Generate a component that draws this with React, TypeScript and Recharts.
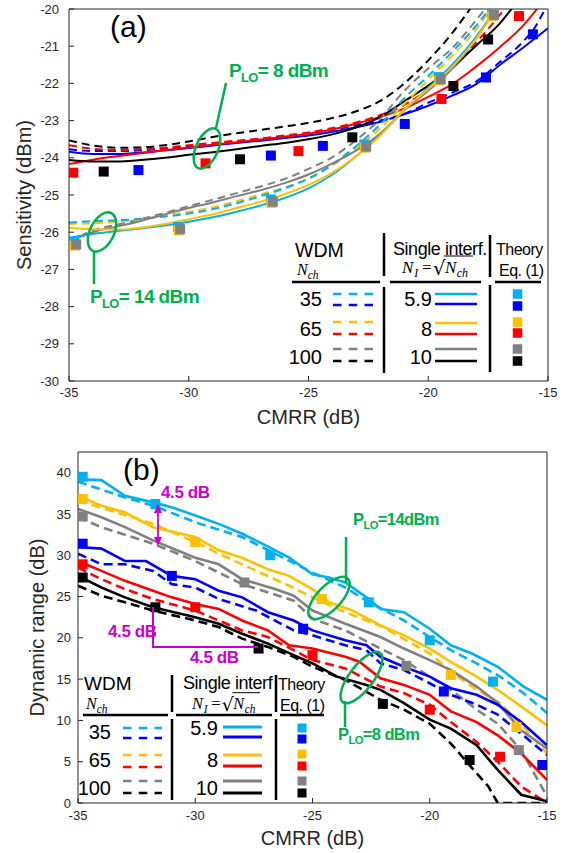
import React from 'react';
import { ComposedChart, Line, Scatter, XAxis, YAxis, Label } from 'recharts';

type P = [number, number];
const toXY = (a: P[]) => a.map(([x, y]) => ({ x, y }));

// ---------- ticks ----------
const CMRR_TICKS = [-35, -30, -25, -20, -15];
const SENS_TICKS = [-30, -29, -28, -27, -26, -25, -24, -23, -22, -21, -20];
const DR_TICKS = [0, 5, 10, 15, 20, 25, 30, 35, 40];

// ---------- panel (a): sensitivity (dBm) vs CMRR ----------
// P_LO = 8 dBm
const A_BLUE_WDM35: P[] = [[-35,-23.77],[-34,-23.82],[-33,-23.82],[-32,-23.8],[-31,-23.75],[-30,-23.7],[-29,-23.64],[-28,-23.56],[-27,-23.49],[-26,-23.42],[-25,-23.34],[-24,-23.25],[-23,-23.12],[-22,-23.0],[-21,-22.82],[-20,-22.52],[-19,-22.25],[-18,-21.95],[-17,-21.42],[-16,-20.85],[-15.5,-20.45],[-15.2,-20.1],[-15,-19.9]];
const A_BLUE_SI59: P[] = [[-35,-23.84],[-34,-23.9],[-33,-23.9],[-32,-23.86],[-31,-23.8],[-30,-23.74],[-29,-23.67],[-28,-23.6],[-27,-23.54],[-26,-23.47],[-25,-23.4],[-24,-23.3],[-23,-23.18],[-22,-23.03],[-21,-22.83],[-20,-22.6],[-19,-22.33],[-18,-22.02],[-17,-21.5],[-16,-21.02],[-15,-20.52]];
const A_RED_WDM65: P[] = [[-35,-23.66],[-34,-23.76],[-33,-23.79],[-32,-23.77],[-31,-23.73],[-30,-23.66],[-29,-23.6],[-28,-23.54],[-27,-23.48],[-26,-23.4],[-25,-23.32],[-24,-23.2],[-23,-23.05],[-22,-22.85],[-21,-22.58],[-20,-22.15],[-19,-21.6],[-18,-20.9],[-17,-20.15],[-16.7,-19.9]];
const A_RED_SI8: P[] = [[-35,-24.17],[-34,-24.05],[-33,-23.96],[-32,-23.88],[-31,-23.8],[-30,-23.72],[-29,-23.65],[-28,-23.58],[-27,-23.51],[-26,-23.43],[-25,-23.35],[-24,-23.24],[-23,-23.08],[-22,-22.9],[-21,-22.68],[-20,-22.36],[-19,-22.02],[-18,-21.55],[-17,-21.02],[-16,-20.42],[-15.4,-19.95]];
const A_BLACK_WDM100: P[] = [[-35,-23.53],[-34,-23.67],[-33,-23.73],[-32,-23.72],[-31,-23.66],[-30,-23.56],[-29,-23.44],[-28,-23.34],[-27,-23.25],[-26,-23.16],[-25,-23.06],[-24,-22.93],[-23,-22.75],[-22,-22.47],[-21,-22.0],[-20,-21.38],[-19,-20.65],[-18.5,-20.22],[-18.2,-19.95]];
const A_BLACK_SI10: P[] = [[-35,-24.06],[-34,-24.1],[-33,-24.1],[-32,-24.06],[-31,-24.0],[-30,-23.92],[-29,-23.85],[-28,-23.77],[-27,-23.68],[-26,-23.6],[-25,-23.5],[-24,-23.37],[-23,-23.18],[-22,-22.9],[-21,-22.48],[-20,-22.06],[-19,-21.58],[-18,-20.98],[-17,-20.38],[-16.5,-19.98]];
// P_LO = 14 dBm
const A_CYAN_WDM35: P[] = [[-35,-25.74],[-34,-25.7],[-33,-25.68],[-32,-25.64],[-31,-25.58],[-30,-25.5],[-29,-25.38],[-28,-25.22],[-27,-25.03],[-26,-24.82],[-25,-24.56],[-24,-24.18],[-23,-23.68],[-22,-23.1],[-21,-22.4],[-20,-21.8],[-19,-21.15],[-18,-20.45],[-17.4,-19.95]];
const A_CYAN_SI59: P[] = [[-35,-26.15],[-34,-26.05],[-33,-25.97],[-32,-25.9],[-31,-25.82],[-30,-25.72],[-29,-25.6],[-28,-25.45],[-27,-25.28],[-26,-25.08],[-25,-24.82],[-24,-24.45],[-23,-23.95],[-22,-23.38],[-21,-22.72],[-20,-22.12],[-19,-21.5],[-18,-20.75],[-17.2,-20.0],[-17,-19.8]];
const A_ORANGE_WDM65: P[] = [[-35,-25.78],[-34,-25.76],[-33,-25.72],[-32,-25.65],[-31,-25.55],[-30,-25.45],[-29,-25.33],[-28,-25.17],[-27,-24.98],[-26,-24.8],[-25,-24.55],[-24,-24.2],[-23,-23.75],[-22,-23.2],[-21,-22.55],[-20,-21.9],[-19,-21.25],[-18,-20.55],[-17.4,-20.0],[-17.3,-19.9]];
const A_ORANGE_SI8: P[] = [[-35,-25.88],[-34,-25.92],[-33,-25.93],[-32,-25.88],[-31,-25.78],[-30,-25.65],[-29,-25.52],[-28,-25.35],[-27,-25.18],[-26,-24.98],[-25,-24.73],[-24,-24.4],[-23,-23.95],[-22,-23.4],[-21,-22.7],[-20,-22.15],[-19,-21.55],[-18,-20.8],[-17.2,-20.0],[-17,-19.8]];
const A_GRAY_WDM100: P[] = [[-35,-26.3],[-34.5,-26.1],[-34,-25.95],[-33,-25.8],[-32,-25.65],[-31,-25.48],[-30,-25.3],[-29,-25.13],[-28,-24.95],[-27,-24.77],[-26,-24.57],[-25,-24.3],[-24,-23.98],[-23,-23.52],[-22,-22.95],[-21,-22.2],[-20,-21.6],[-19,-21.05],[-18,-20.3],[-17.6,-19.98]];
const A_GRAY_SI10: P[] = [[-35,-26.3],[-34.5,-26.12],[-34,-26.0],[-33,-25.85],[-32,-25.7],[-31,-25.52],[-30,-25.35],[-29,-25.2],[-28,-25.03],[-27,-24.87],[-26,-24.68],[-25,-24.45],[-24,-24.15],[-23,-23.8],[-22,-23.35],[-21,-22.72],[-20,-22.2],[-19,-21.6],[-18,-20.8],[-17.2,-20.0],[-17,-19.8]];
// theory squares (a)
const A_TH_CYAN: P[] = [[-34.78,-26.27],[-30.44,-25.86],[-26.57,-25.12],[-22.67,-23.64],[-19.56,-21.83],[-17.34,-20.1]];
const A_TH_ORANGE: P[] = [[-34.76,-26.36],[-30.42,-25.95],[-26.55,-25.21],[-22.65,-23.73],[-19.54,-21.92],[-17.32,-20.19]];
const A_TH_GRAY: P[] = [[-34.7,-26.33],[-30.36,-25.92],[-26.49,-25.18],[-22.59,-23.7],[-19.48,-21.89],[-17.26,-20.16]];
const A_TH_BLUE: P[] = [[-32.1,-24.33],[-26.57,-23.94],[-24.4,-23.68],[-20.98,-23.09],[-17.59,-21.84],[-15.63,-20.68]];
const A_TH_RED: P[] = [[-34.82,-24.4],[-29.3,-24.15],[-25.42,-23.82],[-19.45,-22.42],[-16.21,-20.19]];
const A_TH_BLACK: P[] = [[-33.55,-24.37],[-27.86,-24.04],[-23.17,-23.45],[-18.95,-22.07],[-17.5,-20.82]];

// ---------- panel (b): dynamic range (dB) vs CMRR ----------
const B_CYAN_WDM35: P[] = [[-35,38.9],[-33,37.0],[-31.8,36.0],[-29.8,33.8],[-28,32.2],[-26.6,30.2],[-25,27.9],[-23.6,26.1],[-22.7,24.5],[-21.1,22.1],[-20,20.1],[-19.1,18.5],[-18,16.9],[-17,15.3],[-16,13.3],[-15,10.9]];
const B_CYAN_SI59: P[] = [[-35,39.2],[-34,39.1],[-33,37.2],[-31.8,36.4],[-31,35.8],[-30,34.8],[-29,33.8],[-28,32.6],[-27,31.2],[-26,29.7],[-25,27.7],[-24.3,27.3],[-23.6,26.7],[-22.7,24.9],[-22.1,23.5],[-21.1,23.1],[-20,21.1],[-19.1,19.1],[-18.2,18.1],[-17.1,16.5],[-16,14.1],[-15,12.5]];
const B_ORANGE_WDM65: P[] = [[-35,36.6],[-33.6,35.4],[-31.8,33.8],[-30,31.6],[-29,30.2],[-28,28.9],[-27,27.6],[-26,26.3],[-25,24.9],[-23.6,23.1],[-22,21.3],[-20,18.1],[-19,15.7],[-18,13.7],[-17,12.1],[-16,9.2],[-15,6.0]];
const B_ORANGE_SI8: P[] = [[-35,37.2],[-34,36.0],[-33,35.2],[-31.8,33.4],[-30,32.2],[-29,30.6],[-28,29.7],[-26.9,28.3],[-26,27.5],[-25,25.9],[-24.3,24.3],[-23.3,23.3],[-22.1,21.5],[-21.1,20.3],[-20,18.7],[-19.1,17.1],[-18,15.3],[-17.1,13.7],[-16.1,11.7],[-15,9.4]];
const B_GRAY_WDM100: P[] = [[-35,34.6],[-34,33.4],[-31.8,31.4],[-30,29.3],[-28,26.5],[-25.8,24.5],[-25,22.3],[-23.6,20.9],[-22.1,18.7],[-21.1,17.3],[-20,15.3],[-19.1,13.7],[-18,11.3],[-17.1,9.6],[-16.1,6.4],[-15,0.8]];
const B_GRAY_SI10: P[] = [[-35,35.6],[-34,34.6],[-33,33.4],[-31.8,31.8],[-30,29.7],[-29,28.9],[-28,27.1],[-26.6,25.9],[-25.8,25.1],[-25,23.3],[-23.6,21.7],[-22.1,20.1],[-21.1,18.7],[-20,17.3],[-19.1,16.1],[-18,14.1],[-17.1,12.1],[-16.1,8.8],[-15,6.6]];
const B_BLUE_WDM35: P[] = [[-35,30.2],[-34,28.9],[-33,28.9],[-31.8,28.1],[-31,26.5],[-30,26.1],[-29,24.7],[-27.4,23.3],[-25.8,20.9],[-25,20.3],[-23.6,19.1],[-22.7,18.5],[-22.1,16.9],[-21.1,16.1],[-20,14.5],[-19.1,13.1],[-18,11.9],[-17.1,10.7],[-16.1,8.4],[-15,5.8]];
const B_BLUE_SI59: P[] = [[-35,31.0],[-34,30.8],[-33,29.3],[-32.1,29.3],[-31,27.5],[-30,27.1],[-29,25.7],[-28,24.9],[-26.9,23.1],[-25.8,22.1],[-25,20.9],[-23.6,19.7],[-22.7,19.1],[-22.1,17.7],[-21.1,16.5],[-20,15.3],[-19.1,13.9],[-18,13.1],[-17.1,11.9],[-16.1,9.8],[-15,7.0]];
const B_RED_WDM65: P[] = [[-35,28.5],[-34,27.1],[-33,25.9],[-31.8,24.7],[-30,23.3],[-29,22.1],[-28,20.9],[-26.9,20.1],[-25.8,18.5],[-25,17.3],[-23.6,16.3],[-22.1,14.1],[-21.1,13.3],[-20,11.9],[-19.1,9.8],[-18,7.4],[-17.1,5.0],[-16.1,2.0],[-15,0]];
const B_RED_SI8: P[] = [[-35,29.3],[-34,28.1],[-33,26.9],[-31.8,25.7],[-31,24.9],[-30,24.1],[-29,23.5],[-28,22.1],[-26.9,20.9],[-26,19.1],[-25,18.7],[-23.6,17.7],[-23,17.1],[-22.1,15.1],[-21.1,14.3],[-20,13.1],[-19.1,11.1],[-18,9.8],[-17.1,8.2],[-16.1,6.0],[-15,2.8]];
const B_BLACK_WDM100: P[] = [[-35,26.3],[-34,25.1],[-33,24.3],[-31.8,23.3],[-30,22.1],[-29,21.3],[-28,19.9],[-26.9,18.9],[-25.8,17.7],[-25,16.5],[-23.6,14.9],[-22.1,12.5],[-21.1,11.3],[-20,9.6],[-19.1,7.2],[-18,3.6],[-17.5,2.0],[-17.1,0],[-16,0],[-15,0]];
const B_BLACK_SI10: P[] = [[-35,27.5],[-34,26.1],[-33,24.9],[-31.8,23.7],[-30,22.5],[-29,21.7],[-28,20.5],[-26.9,19.3],[-25.8,17.9],[-25,16.9],[-23.95,15.3],[-22.7,14.3],[-22.1,13.7],[-21.1,12.1],[-20,10.1],[-19.1,9.0],[-18,7.0],[-17.1,4.0],[-16.1,1.0],[-15,0.2]];
// theory squares (b)
const B_TH_CYAN: P[] = [[-34.8,39.5],[-31.7,36.2],[-26.8,30.0],[-22.6,24.3],[-20.0,19.7],[-17.3,14.7]];
const B_TH_BLUE: P[] = [[-34.8,31.4],[-31.0,27.5],[-25.4,21.1],[-19.4,13.5],[-15.2,4.6]];
const B_TH_ORANGE: P[] = [[-34.8,36.8],[-30.0,31.6],[-24.6,24.7],[-19.1,15.5],[-16.3,9.2]];
const B_TH_RED: P[] = [[-34.8,28.9],[-30.0,23.7],[-25.0,17.9],[-20.0,11.3],[-17.0,5.6]];
const B_TH_GRAY: P[] = [[-34.8,34.7],[-27.9,26.7],[-21.0,16.6],[-16.2,6.4]];
const B_TH_BLACK: P[] = [[-34.8,27.3],[-31.7,23.7],[-27.3,18.7],[-22.0,12.0],[-18.3,5.2]];

// ---------- legend labels ----------
const WDM_NCH = ['35', '65', '100'];
const SI_NI = ['5.9', '8', '10'];

// ---------- styles ----------
const COL = { cyan: '#00B0F0', blue: '#0000FF', orange: '#FFC000', red: '#FF0000', gray: '#808080', black: '#000000' };
const ROW_COLORS = [[COL.cyan, COL.blue], [COL.orange, COL.red], [COL.gray, COL.black]];
const GREEN = '#00B050';
const MAGENTA = '#CC00CC';
const AX = '#262626';
const TICK = { fontSize: 13, fill: AX };

const A_LINES = [
  { d: A_BLUE_WDM35, c: COL.blue, dash: true }, { d: A_RED_WDM65, c: COL.red, dash: true }, { d: A_BLACK_WDM100, c: COL.black, dash: true },
  { d: A_BLUE_SI59, c: COL.blue, dash: false }, { d: A_RED_SI8, c: COL.red, dash: false }, { d: A_BLACK_SI10, c: COL.black, dash: false },
  { d: A_GRAY_WDM100, c: COL.gray, dash: true }, { d: A_ORANGE_WDM65, c: COL.orange, dash: true }, { d: A_CYAN_WDM35, c: COL.cyan, dash: true },
  { d: A_GRAY_SI10, c: COL.gray, dash: false }, { d: A_CYAN_SI59, c: COL.cyan, dash: false }, { d: A_ORANGE_SI8, c: COL.orange, dash: false },
];
const A_SQUARES = [
  { d: A_TH_CYAN, c: COL.cyan }, { d: A_TH_ORANGE, c: COL.orange }, { d: A_TH_GRAY, c: COL.gray },
  { d: A_TH_BLUE, c: COL.blue }, { d: A_TH_RED, c: COL.red }, { d: A_TH_BLACK, c: COL.black },
];
const B_LINES = [
  { d: B_CYAN_WDM35, c: COL.cyan, dash: true }, { d: B_ORANGE_WDM65, c: COL.orange, dash: true }, { d: B_GRAY_WDM100, c: COL.gray, dash: true },
  { d: B_BLUE_WDM35, c: COL.blue, dash: true }, { d: B_RED_WDM65, c: COL.red, dash: true }, { d: B_BLACK_WDM100, c: COL.black, dash: true },
  { d: B_CYAN_SI59, c: COL.cyan, dash: false }, { d: B_ORANGE_SI8, c: COL.orange, dash: false }, { d: B_GRAY_SI10, c: COL.gray, dash: false },
  { d: B_BLUE_SI59, c: COL.blue, dash: false }, { d: B_RED_SI8, c: COL.red, dash: false }, { d: B_BLACK_SI10, c: COL.black, dash: false },
];
const B_SQUARES = [
  { d: B_TH_CYAN, c: COL.cyan }, { d: B_TH_ORANGE, c: COL.orange }, { d: B_TH_GRAY, c: COL.gray },
  { d: B_TH_BLUE, c: COL.blue }, { d: B_TH_RED, c: COL.red }, { d: B_TH_BLACK, c: COL.black },
];

const square = (s: number) => (p: any) => (
  <rect x={p.cx - s / 2} y={p.cy - s / 2} width={s} height={s} fill={p.fill} />
);

function renderSeries(lines: any[], squares: any[], width: number, dash: string, curve: any, sq: number) {
  const out: any[] = [];
  lines.forEach((l, i) =>
    out.push(
      <Line key={'l' + i} xAxisId="b" yAxisId="l" data={toXY(l.d)} dataKey="y" type={curve} stroke={l.c}
        strokeWidth={width} strokeDasharray={l.dash ? dash : undefined} dot={false} activeDot={false}
        isAnimationActive={false} />
    )
  );
  squares.forEach((s, i) =>
    out.push(
      <Scatter key={'s' + i} xAxisId="b" yAxisId="l" data={toXY(s.d)} dataKey="y" fill={s.c}
        shape={square(sq)} isAnimationActive={false} />
    )
  );
  return out;
}

function Nch({ x, y, f }: { x: number; y: number; f: number }) {
  return (
    <text x={x} y={y} fontFamily="'Liberation Serif', serif" fontStyle="italic" fontSize={f} fill="#000">
      N<tspan fontSize={f * 0.72} dy={f * 0.22}>ch</tspan>
    </text>
  );
}

function Formula({ x, y, k }: { x: number; y: number; k: number }) {
  const f = 17 * k;
  const serif = "'Liberation Serif', serif";
  return (
    <g fill="#000">
      <text x={x} y={y} fontFamily={serif} fontStyle="italic" fontSize={f}>
        N<tspan fontSize={f * 0.7} dy={4 * k} dx={1 * k}>I</tspan>
      </text>
      <text x={x + 20 * k} y={y} fontFamily={serif} fontSize={f}>=</text>
      <text x={x + 31 * k} y={y + 2 * k} fontFamily="'DejaVu Sans', sans-serif" fontSize={f * 1.15}>√</text>
      <line x1={x + 42 * k} x2={x + 71 * k} y1={y - 17 * k} y2={y - 17 * k} stroke="#000" strokeWidth={1} />
      <text x={x + 43 * k} y={y} fontFamily={serif} fontStyle="italic" fontSize={f}>
        N<tspan fontSize={f * 0.7} dy={4 * k} dx={0.5 * k}>ch</tspan>
      </text>
    </g>
  );
}

function LegendTable(p: any) {
  const lw = 2.5;
  return (
    <g>
      <text x={p.wdm[0]} y={p.wdm[1]} fontSize={p.titleF} fill="#000">WDM</text>
      <Nch x={p.nch[0]} y={p.nch[1]} f={16} />
      <text x={p.single[0]} y={p.single[1]} fontSize={18} fill="#000" letterSpacing={-0.45}>{p.singleText}</text>
      <Formula x={p.formula[0]} y={p.formula[1]} k={p.formulaK} />
      <text x={p.theory[0]} y={p.theory[1]} fontSize={16} fill="#000" letterSpacing={-0.5}>Theory</text>
      <text x={p.eq[0]} y={p.eq[1]} fontSize={16} fill="#000" letterSpacing={-0.5}>Eq. (1)</text>
      {p.hlines.map((h: number[], i: number) => (
        <line key={'h' + i} x1={h[0]} x2={h[1]} y1={p.hy} y2={p.hy} stroke="#000" strokeWidth={lw} />
      ))}
      {p.vlines.map((v: number[], i: number) => (
        <line key={'v' + i} x1={v[0]} x2={v[0]} y1={v[1]} y2={v[2]} stroke="#000" strokeWidth={lw} />
      ))}
      {WDM_NCH.map((n, r) => (
        <text key={'n' + r} x={p.numRight} y={p.numY[r]} fontSize={20} textAnchor="end" fill="#000">{n}</text>
      ))}
      {SI_NI.map((n, r) => (
        <text key={'s' + r} x={p.siRight} y={p.siY[r]} fontSize={20} textAnchor="end" fill="#000">{n}</text>
      ))}
      {ROW_COLORS.map((pair, r) =>
        pair.map((c, j) => (
          <g key={'g' + r + j}>
            <line x1={p.dashX[0]} x2={p.dashX[1]} y1={p.dashY[r][j]} y2={p.dashY[r][j]} stroke={c} strokeWidth={2.3} strokeDasharray="8.5 7.25" />
            <line x1={p.solidX[0]} x2={p.solidX[1]} y1={p.solidY[r][j]} y2={p.solidY[r][j]} stroke={c} strokeWidth={p.solidW} />
            <rect x={p.sqX - p.sq / 2} y={p.sqY[r][j] - p.sq / 2} width={p.sq} height={p.sq} fill={c} />
          </g>
        ))
      )}
    </g>
  );
}

function PLO({ x, y, f, rest }: { x: number; y: number; f: number; rest: string }) {
  return (
    <text x={x} y={y} fontSize={f} fontWeight="bold" fill={GREEN} letterSpacing={-0.6}>
      P<tspan fontSize={f * 0.68} dy={f * 0.25}>LO</tspan><tspan dy={-f * 0.25}>{rest}</tspan>
    </text>
  );
}

const LEGEND_A = {
  wdm: [295, 257], titleF: 19.5, nch: [297, 275], single: [393, 255], singleText: 'Single interf.',
  formula: [402, 273], formulaK: 1, theory: [496, 255], eq: [499, 276],
  hy: 282, hlines: [[292, 380], [390, 481], [495, 541]],
  vlines: [[384, 233, 276], [384, 287, 373], [490, 235, 277], [490, 285, 372]],
  numRight: 322, numY: [306, 336, 364], siRight: 432, siY: [306, 336, 364],
  dashX: [333, 373], dashY: [[294, 305], [322, 334], [349, 361]],
  solidX: [435, 477], solidY: [[294, 304], [323, 334], [349, 361]], solidW: 2.6,
  sqX: 517.5, sqY: [[294, 306], [322, 333], [349, 361]], sq: 9.5,
};
const LEGEND_B = {
  wdm: [84, 690], titleF: 19, nch: [86, 709], single: [183, 689], singleText: 'Single interf',
  formula: [192, 709], formulaK: 0.96, theory: [278, 690], eq: [280, 711],
  hy: 715, hlines: [[83, 168], [176, 272], [280, 324]],
  vlines: [[172, 675, 712], [172, 719, 800], [276, 675, 712], [276, 719, 800]],
  numRight: 111, numY: [739, 767, 795], siRight: 218, siY: [734.5, 767, 795],
  dashX: [123, 162], dashY: [[728, 738], [755, 767], [781, 793]],
  solidX: [223, 262], solidY: [[727, 737], [755, 766], [781, 793]], solidW: 3,
  sqX: 302, sqY: [[728, 739], [754, 766], [781, 793]], sq: 9,
};

export default function App() {
  return (
    <div style={{ position: 'absolute', left: 0, top: 0, width: 574, height: 853, background: '#fff', fontFamily: "'Liberation Sans', Arial, sans-serif" }}>
      <div style={{ position: 'absolute', left: 0, top: 0 }}>
        <ComposedChart width={574} height={430} margin={{ top: 8, right: 25, bottom: 19, left: 19 }}>
          <XAxis xAxisId="b" dataKey="x" type="number" domain={[-35, -15]} ticks={CMRR_TICKS} allowDataOverflow
            tickSize={-5} tickMargin={12} height={30} stroke={AX} tick={TICK}>
            <Label value="CMRR (dB)" position="insideBottom" offset={-13} fill={AX} style={{ fontSize: 20, fill: AX }} />
          </XAxis>
          <XAxis xAxisId="t" orientation="top" type="number" domain={[-35, -15]} ticks={CMRR_TICKS} allowDataOverflow
            tickSize={-5} height={1} tick={false} stroke={AX} />
          <YAxis yAxisId="l" type="number" domain={[-30, -20]} ticks={SENS_TICKS} allowDataOverflow
            tickSize={-5} tickMargin={15} width={50} stroke={AX} tick={TICK}>
            <Label value="Sensitivity (dBm)" angle={-90} position="insideLeft" offset={5} fill={AX}
              style={{ fontSize: 20, fill: AX, textAnchor: 'middle' }} />
          </YAxis>
          <YAxis yAxisId="r" orientation="right" type="number" domain={[-30, -20]} ticks={SENS_TICKS} allowDataOverflow
            tickSize={-5} width={1} tick={false} stroke={AX} />
          {renderSeries(A_LINES, A_SQUARES, 2, '8 5', 'monotone', 10)}
        </ComposedChart>
      </div>
      <div style={{ position: 'absolute', left: 0, top: 430 }}>
        <ComposedChart width={574} height={423} margin={{ top: 21, right: 26, bottom: 20, left: 28 }}>
          <XAxis xAxisId="b" dataKey="x" type="number" domain={[-35, -15]} ticks={CMRR_TICKS} allowDataOverflow
            tickSize={-5} tickMargin={13} height={30} stroke={AX} tick={TICK}>
            <Label value="CMRR (dB)" position="insideBottom" offset={-12} fill={AX} style={{ fontSize: 20, fill: AX }} />
          </XAxis>
          <XAxis xAxisId="t" orientation="top" type="number" domain={[-35, -15]} ticks={CMRR_TICKS} allowDataOverflow
            tickSize={-5} height={1} tick={false} stroke={AX} />
          <YAxis yAxisId="l" type="number" domain={[0, 42.5]} ticks={DR_TICKS} allowDataOverflow
            tickSize={-5} tickMargin={12} width={50} stroke={AX} tick={TICK}>
            <Label value="Dynamic range (dB)" angle={-90} position="insideLeft" offset={9} fill={AX}
              style={{ fontSize: 20, fill: AX, textAnchor: 'middle' }} />
          </YAxis>
          <YAxis yAxisId="r" orientation="right" type="number" domain={[0, 42.5]} ticks={DR_TICKS} allowDataOverflow
            tickSize={-5} width={1} tick={false} stroke={AX} />
          {renderSeries(B_LINES, B_SQUARES, 2.6, '9 5', 'linear', 10)}
        </ComposedChart>
      </div>
      <svg width={574} height={853} style={{ position: 'absolute', left: 0, top: 0, pointerEvents: 'none' }}>
        {/* panel (a) annotations */}
        <text x={110} y={37} fontSize={30} fill="#000">(a)</text>
        <PLO x={229} y={77} f={19} rest="= 8 dBm" />
        <line x1={226} y1={83} x2={216} y2={128} stroke={GREEN} strokeWidth={2.5} />
        <ellipse cx={207} cy={148.5} rx={11} ry={21.5} fill="none" stroke={GREEN} strokeWidth={2.5} transform="rotate(24 207 148.5)" />
        <ellipse cx={102} cy={232} rx={12} ry={21} fill="none" stroke={GREEN} strokeWidth={2.5} transform="rotate(26 102 232)" />
        <line x1={94} y1={252} x2={94} y2={284} stroke={GREEN} strokeWidth={2.5} />
        <PLO x={90} y={303} f={19} rest="= 14 dBm" />
        <LegendTable {...LEGEND_A} />

        {/* panel (b) annotations */}
        <text x={123} y={480} fontSize={30} fill="#000">(b)</text>
        <text x={161} y={498} fontSize={17} fontWeight="bold" fill={MAGENTA} letterSpacing={-0.4}>4.5 dB</text>
        <line x1={158} y1={510} x2={158} y2={540} stroke={MAGENTA} strokeWidth={1.8} />
        <polygon points="158,504 154,513 162,513" fill={MAGENTA} />
        <polygon points="158,546 154,537 162,537" fill={MAGENTA} />
        <text x={108} y={637} fontSize={17} fontWeight="bold" fill={MAGENTA} letterSpacing={-0.4}>4.5 dB</text>
        <polyline points="153,607 153,647 258,647" fill="none" stroke={MAGENTA} strokeWidth={2} />
        <text x={190} y={663} fontSize={17} fontWeight="bold" fill={MAGENTA} letterSpacing={-0.4}>4.5 dB</text>
        <PLO x={353} y={525} f={16.5} rest="=14dBm" />
        <line x1={346} y1={537} x2={346} y2={583} stroke={GREEN} strokeWidth={2.5} />
        <ellipse cx={329} cy={598} rx={27} ry={12} fill="none" stroke={GREEN} strokeWidth={2.5} transform="rotate(-46 329 598)" />
        <ellipse cx={361.5} cy={677.5} rx={31} ry={12} fill="none" stroke={GREEN} strokeWidth={2.5} transform="rotate(-53 361.5 677.5)" />
        <line x1={345} y1={701} x2={345} y2={727} stroke={GREEN} strokeWidth={2.5} />
        <PLO x={338} y={740} f={16.5} rest="=8 dBm" />
        <LegendTable {...LEGEND_B} />
      </svg>
    </div>
  );
}
